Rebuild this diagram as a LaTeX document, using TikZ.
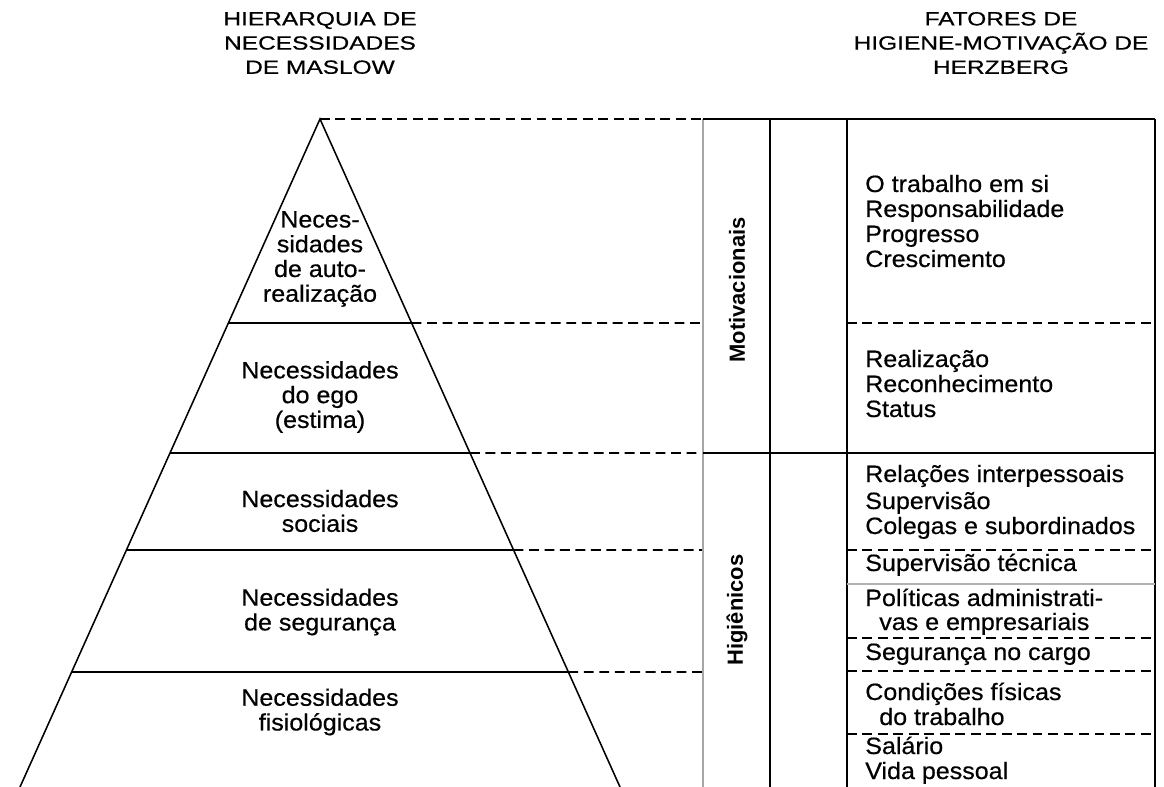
\documentclass[tikz,border=0pt]{standalone}
\usepackage{fontspec}
\setmainfont{Liberation Sans}
\newfontfamily\titfont[FakeStretch=1.28, FakeBold=0.6]{Liberation Sans}
\newfontfamily\lblfont[FakeStretch=1.06, FakeBold=0.5]{Liberation Sans}
\newfontfamily\grpfont{Liberation Sans}
\usepackage{tikz}
\usetikzlibrary{
  positioning,
  calc
}

\begin{document}
\begin{tikzpicture}[
    x=0.025cm, y=-0.025cm,
    piramide/.style={line width=1.1pt, line join=miter},
    nivel/.style={line width=1.1pt},
    guia/.style={line width=1.2pt, dash pattern=on 7pt off 4pt},
    tabela/.style={line width=1.3pt},
    titulo/.style={font=\titfont\fontsize{13.6}{17.2}\selectfont, align=center, inner sep=0pt},
    rotulo/.style={font=\lblfont\fontsize{16.8}{17.6}\selectfont, align=center, inner sep=0pt},
    fator/.style={font=\lblfont\fontsize{16.8}{17.6}\selectfont, anchor=base west, inner sep=0pt},
    grupo/.style={font=\grpfont\bfseries\fontsize{15.6}{17.6}\selectfont, rotate=90, inner sep=0pt}
]
    \useasboundingbox (0,0) rectangle (1164,787);

    % 标题
    \node[titulo] (tmaslow) at (320,43) {HIERARQUIA DE\\NECESSIDADES\\DE MASLOW};
    \node[titulo] (therz) at (1001,43) {FATORES DE\\HIGIENE-MOTIVAÇÃO DE\\HERZBERG};

    % 金字塔
    \coordinate (topo) at (320,119);
    \coordinate (baseE) at (20,787);
    \coordinate (baseD) at (620,787);
    \draw[piramide] (baseE) -- (topo) -- (baseD);

    % 分层线与虚线延伸
    \draw[guia] (topo) -- (703,119);
    \foreach \y in {323,453,550,672} {
        \pgfmathsetmacro{\tp}{(\y-119)/668}
        \draw[nivel] ($(topo)!\tp!(baseE)$) -- ($(topo)!\tp!(baseD)$);
        \draw[guia] ($(topo)!\tp!(baseD)$) -- (703,\y);
    }

    % 层内文字
    \node[rotulo] (nauto) at (320,259) {Neces-\\sidades\\de auto-\\realização};
    \node[rotulo] (nego) at (320,397) {Necessidades\\do ego\\(estima)};
    \node[rotulo] (nsoc) at (320,511) {Necessidades\\sociais};
    \node[rotulo] (nseg) at (320,612) {Necessidades\\de segurança};
    \node[rotulo] (nfis) at (320,712) {Necessidades\\fisiológicas};

    % 表格
    \draw[gray!70, line width=0.8pt] (703,119) -- (703,787);
    \draw[tabela] (703,119) -- (1155,119);
    \draw[tabela] (770,119) -- (770,787);
    \draw[tabela] (847,119) -- (847,787);
    \draw[tabela] (1155,119) -- (1155,787);
    \draw[tabela] (703,453) -- (1155,453);
    \draw[gray!60, line width=1pt] (847,584) -- (1155,584);
    \foreach \y in {323,550,638,671,734}
        \draw[guia] (847,\y) -- (1155,\y);

    % 分组
    \node[grupo] (motiv) at (737,290) {Motivacionais};
    \node[grupo] (higie) at (737,610) {Higiênicos};

    % 因素列表
    \foreach \x/\y/\txt [count=\i] in {
        865/192/O trabalho em si,
        865/217/Responsabilidade,
        865/242/Progresso,
        865/267/Crescimento,
        865/367/Realização,
        865/392/Reconhecimento,
        865/417/Status,
        865/482/Relações interpessoais,
        865/509/Supervisão,
        865/534/Colegas e subordinados,
        865/571/Supervisão técnica,
        865/606/Políticas administrati-,
        879/630/vas e empresariais,
        865/660/Segurança no cargo,
        865/700/Condições físicas,
        879/725/do trabalho,
        865/754/Salário,
        865/779/Vida pessoal}
        \node[fator] (f\i) at (\x,\y) {\txt};
\end{tikzpicture}
\end{document}
